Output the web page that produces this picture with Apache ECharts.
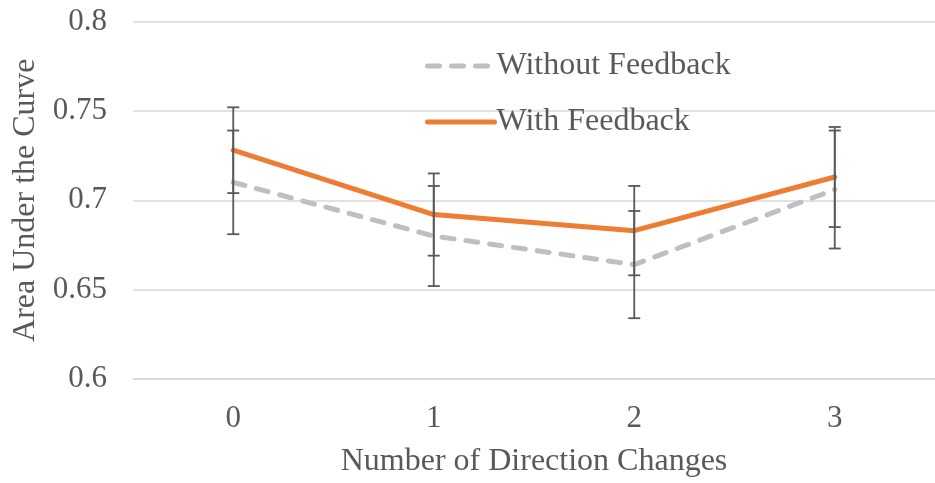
<!DOCTYPE html>
<html>
<head>
<meta charset="utf-8">
<script src="https://cdn.jsdelivr.net/npm/echarts@6/dist/echarts.min.js"></script>
<style>
  html, body { margin: 0; padding: 0; background: #ffffff; }
  #chart { width: 935px; height: 483px; }
</style>
</head>
<body>
<div id="chart"></div>
<script>
// Direction-change categories on the x axis
const categories = ['0', '1', '2', '3'];

// Mean AUC per condition
const withoutFeedback = [0.710, 0.680, 0.664, 0.706];
const withFeedback = [0.728, 0.692, 0.683, 0.713];

// Error bar half-widths (±) per condition
const withoutFeedbackErr = [0.029, 0.028, 0.030, 0.033];
const withFeedbackErr = [0.024, 0.023, 0.025, 0.028];

const FONT = '"Liberation Serif", "Times New Roman", serif';
const TEXT = '#595959';

// Builds [categoryIndex, low, high] rows for an error bar series
function errorRows(means, errs) {
  return means.map((m, i) => [i, m - errs[i], m + errs[i]]);
}

function renderErrorBar(params, api) {
  const x = api.value(0);
  const lo = api.coord([x, api.value(1)]);
  const hi = api.coord([x, api.value(2)]);
  const half = 6;
  const style = { stroke: '#595959', lineWidth: 1.8 };
  return {
    type: 'group',
    children: [
      { type: 'line', shape: { x1: lo[0], y1: lo[1], x2: hi[0], y2: hi[1] }, style },
      { type: 'line', shape: { x1: hi[0] - half, y1: hi[1], x2: hi[0] + half, y2: hi[1] }, style },
      { type: 'line', shape: { x1: lo[0] - half, y1: lo[1], x2: lo[0] + half, y2: lo[1] }, style }
    ]
  };
}

const chart = echarts.init(document.getElementById('chart'));
chart.setOption({
  animation: false,
  backgroundColor: '#ffffff',
  grid: { left: 133, right: 0, top: 21.5, bottom: 100 },
  legend: {
    orient: 'vertical',
    left: 420,
    top: 45,
    itemWidth: 67,
    itemHeight: 6,
    itemGap: 24,
    itemStyle: { opacity: 0 },
    lineStyle: { width: 5 },
    textStyle: { fontFamily: FONT, fontSize: 32, color: TEXT, padding: [0, 0, 0, -3] },
    data: ['Without Feedback', 'With Feedback']
  },
  xAxis: {
    type: 'category',
    data: categories,
    boundaryGap: true,
    axisLine: { show: true, lineStyle: { color: '#d9d9d9', width: 1.5 } },
    axisTick: { show: false },
    axisLabel: { fontFamily: FONT, fontSize: 31, color: TEXT, margin: 24 },
    name: 'Number of Direction Changes',
    nameLocation: 'middle',
    nameGap: 67,
    nameTextStyle: { fontFamily: FONT, fontSize: 32, color: TEXT }
  },
  yAxis: {
    type: 'value',
    min: 0.6,
    max: 0.8,
    interval: 0.05,
    axisLine: { show: false },
    axisTick: { show: false },
    splitLine: { lineStyle: { color: '#d9d9d9', width: 1.5 } },
    axisLabel: { fontFamily: FONT, fontSize: 31, color: TEXT, margin: 26 },
    name: 'Area Under the Curve',
    nameLocation: 'middle',
    nameGap: 89,
    nameTextStyle: { fontFamily: FONT, fontSize: 32, color: TEXT }
  },
  series: [
    {
      name: 'Without Feedback',
      type: 'line',
      data: withoutFeedback,
      symbol: 'none',
      itemStyle: { color: '#bfbfbf' },
      lineStyle: { color: '#bfbfbf', width: 5, type: [12, 12], cap: 'round' },
      z: 2
    },
    {
      name: 'With Feedback',
      type: 'line',
      data: withFeedback,
      symbol: 'none',
      itemStyle: { color: '#ed7d31' },
      lineStyle: { color: '#ed7d31', width: 5, cap: 'round' },
      z: 3
    },
    {
      type: 'custom',
      renderItem: renderErrorBar,
      data: errorRows(withoutFeedback, withoutFeedbackErr),
      encode: { x: 0, y: [1, 2] },
      z: 4
    },
    {
      type: 'custom',
      renderItem: renderErrorBar,
      data: errorRows(withFeedback, withFeedbackErr),
      encode: { x: 0, y: [1, 2] },
      z: 4
    }
  ]
});
</script>
</body>
</html>
